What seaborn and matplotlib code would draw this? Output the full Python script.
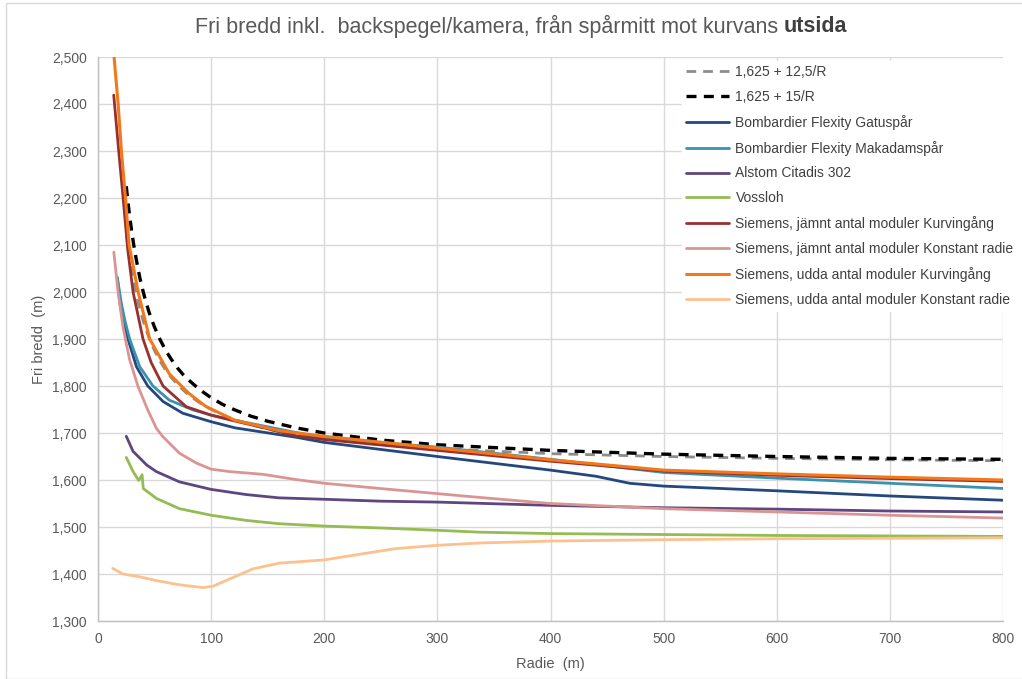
import numpy as np
import pandas as pd
import matplotlib
matplotlib.use("Agg")
import matplotlib.pyplot as plt
import seaborn as sns
from matplotlib.patches import Rectangle
from matplotlib.ticker import FuncFormatter, MultipleLocator

# ---- data ----
labels = [
    "1,625 + 12,5/R",
    "1,625 + 15/R",
    "Bombardier Flexity Gatuspår",
    "Bombardier Flexity Makadamspår",
    "Alstom Citadis 302",
    "Vossloh",
    "Siemens, jämnt antal moduler Kurvingång",
    "Siemens, jämnt antal moduler Konstant radie",
    "Siemens, udda antal moduler Kurvingång",
    "Siemens, udda antal moduler Konstant radie",
]

r_gray = [25, 26, 27, 28, 30, 32, 35, 37, 40, 42, 45, 47, 50, 55, 60, 65, 70, 75, 80, 90, 100, 110,
          120, 135, 150, 175, 200, 250, 300, 400, 500, 600, 700, 800]
v_gray = [2.125, 2.106, 2.088, 2.071, 2.042, 2.016, 1.982, 1.963, 1.938, 1.923, 1.903, 1.891, 1.875,
          1.852, 1.833, 1.817, 1.804, 1.792, 1.781, 1.764, 1.750, 1.739, 1.729, 1.718, 1.708, 1.696,
          1.688, 1.675, 1.667, 1.656, 1.650, 1.646, 1.643, 1.641]

r_black = [25, 26, 27, 28, 30, 32, 35, 37, 40, 42, 45, 47, 50, 55, 60, 65, 70, 75, 80, 90, 100, 110,
           120, 135, 150, 175, 200, 250, 300, 400, 500, 600, 700, 800]
v_black = [2.225, 2.202, 2.181, 2.161, 2.125, 2.094, 2.054, 2.030, 2.000, 1.982, 1.958, 1.944, 1.925,
           1.898, 1.875, 1.856, 1.839, 1.825, 1.813, 1.792, 1.775, 1.761, 1.750, 1.736, 1.725, 1.711,
           1.700, 1.685, 1.675, 1.663, 1.655, 1.650, 1.646, 1.644]

r_gatu = [17, 19.5, 22, 26.5, 34, 44, 57.5, 75, 100, 121, 175, 200, 300, 400, 440, 470, 500, 600, 700, 800]
v_gatu = [2.030, 1.975, 1.940, 1.900, 1.841, 1.800, 1.767, 1.742, 1.724, 1.711, 1.691, 1.680, 1.650,
          1.621, 1.608, 1.593, 1.587, 1.577, 1.566, 1.557]

r_makadam = [17, 20.7, 24, 28, 36.9, 48.6, 63, 84, 100, 115, 200, 300, 400, 500, 600, 700, 800]
v_makadam = [2.032, 1.975, 1.937, 1.900, 1.841, 1.800, 1.770, 1.749, 1.738, 1.730, 1.689, 1.670, 1.644,
             1.616, 1.604, 1.593, 1.582]

r_alstom = [25, 31, 43, 51.5, 72, 100, 131, 160, 200, 249, 300, 400, 500, 600, 700, 800]
v_alstom = [1.693, 1.661, 1.632, 1.618, 1.596, 1.580, 1.569, 1.562, 1.559, 1.555, 1.553, 1.546, 1.541,
            1.538, 1.534, 1.532]

r_vossloh = [25, 31, 36, 39, 40, 51.5, 72, 100, 131, 160, 200, 249, 300, 337, 400, 500, 600, 800]
v_vossloh = [1.648, 1.618, 1.599, 1.611, 1.582, 1.561, 1.539, 1.525, 1.514, 1.507, 1.502, 1.498, 1.493,
             1.489, 1.486, 1.484, 1.482, 1.480]

r_jamnt_kurv = [13.9, 18.3, 22.2, 26.3, 31, 39.8, 47, 57.5, 78, 100, 120, 145, 175, 200, 300, 400,
                500, 600, 700, 800]
v_jamnt_kurv = [2.419, 2.300, 2.200, 2.090, 2.000, 1.900, 1.850, 1.800, 1.756, 1.738, 1.726,
                1.712, 1.694, 1.686, 1.663, 1.640, 1.619, 1.610, 1.603, 1.597]

r_jamnt_konst = [14, 17.7, 22, 25, 28, 35.4, 44, 51.6, 57, 72, 87, 100, 116, 146, 175, 200, 249, 300,
                 337, 400, 500, 600, 700, 800]
v_jamnt_konst = [2.085, 2.000, 1.927, 1.890, 1.856, 1.799, 1.749, 1.710, 1.693, 1.657, 1.636, 1.623,
                 1.618, 1.612, 1.601, 1.593, 1.582, 1.571, 1.563, 1.550, 1.539, 1.532, 1.525, 1.519]

r_udda_kurv = [14.2, 17.8, 20.7, 24.3, 27.5, 35.5, 45.7, 63, 80, 95, 121, 160, 200, 300, 400, 500,
               600, 700, 800]
v_udda_kurv = [2.500, 2.400, 2.300, 2.200, 2.100, 2.000, 1.900, 1.826, 1.785, 1.757, 1.727,
               1.705, 1.693, 1.668, 1.643, 1.621, 1.613, 1.606, 1.600]

r_udda_konst = [13, 22, 37, 51.5, 72, 93, 101.6, 116, 137, 160, 200, 234, 263, 300, 337, 400, 500, 600, 800]
v_udda_konst = [1.412, 1.400, 1.394, 1.386, 1.377, 1.371, 1.374, 1.389, 1.411, 1.423, 1.430, 1.443,
                1.454, 1.461, 1.466, 1.470, 1.473, 1.475, 1.477]

series_r = [r_gray, r_black, r_gatu, r_makadam, r_alstom, r_vossloh,
            r_jamnt_kurv, r_jamnt_konst, r_udda_kurv, r_udda_konst]
series_v = [v_gray, v_black, v_gatu, v_makadam, v_alstom, v_vossloh,
            v_jamnt_kurv, v_jamnt_konst, v_udda_kurv, v_udda_konst]

colors = ["#8C8C8C", "#000000", "#24477E", "#3A92AE", "#5E4680", "#95BB53",
          "#98302D", "#DA9593", "#F3781A", "#FCC18E"]
widths = [2.0, 2.4, 2.0, 2.0, 2.0, 2.0, 2.0, 2.0, 2.2, 2.0]
dashed = [True, True] + [False] * 8

# ---- figure ----
sns.set_theme(style="whitegrid")
plt.rcParams["font.family"] = ["Liberation Sans", "DejaVu Sans"]

fig = plt.figure(figsize=(10.22, 6.79), dpi=100)
ax = fig.add_axes([98 / 1022, 1 - 621 / 679, (1003 - 98) / 1022, (621 - 57) / 679])
fig.patches.append(Rectangle((6 / 1022, 0), 1.0, 1 - 3 / 679, transform=fig.transFigure,
                             fill=False, edgecolor="#D9D9D9", linewidth=1.0, zorder=0))

for lab, rr, vv, c, w, d in zip(labels, series_r, series_v, colors, widths, dashed):
    df = pd.DataFrame({"Radie": rr, "Bredd": vv})
    sns.lineplot(data=df, x="Radie", y="Bredd", ax=ax, color=c, linewidth=w,
                 label=lab, sort=False, estimator=None)
    ln = ax.lines[-1]
    ln.set_solid_joinstyle("round")
    if d:
        ln.set_dashes([3.0, 2.2] if lab.endswith("15/R") else [3.5, 2.5])

ax.set_xlim(0, 800)
ax.set_ylim(1.3, 2.5)
ax.xaxis.set_major_locator(MultipleLocator(100))
ax.yaxis.set_major_locator(MultipleLocator(0.1))
ax.yaxis.set_major_formatter(FuncFormatter(lambda v, p: f"{v:.3f}".replace(".", ",")))
ax.set_facecolor("white")
ax.grid(True, color="#D9D9D9", linewidth=1.0)
for s in ["top", "right"]:
    ax.spines[s].set_visible(False)
for s in ["left", "bottom"]:
    ax.spines[s].set_visible(True)
    ax.spines[s].set_color("#BFBFBF")
    ax.spines[s].set_linewidth(1.0)
ax.tick_params(axis="both", length=0, labelsize=10, labelcolor="#595959", pad=8)

ax.set_xlabel("Radie  (m)", fontsize=10.5, color="#595959", labelpad=8)
ax.set_ylabel("Fri bredd  (m)", fontsize=10.5, color="#595959", labelpad=4)

leg = ax.legend(loc="upper left", bbox_to_anchor=(682 / 1022, 1 - 61 / 679),
                bbox_transform=fig.transFigure, frameon=True, fontsize=10,
                labelspacing=0.78, handlelength=3.1, handletextpad=0.45,
                borderaxespad=0, borderpad=0.3)
leg.get_frame().set_facecolor("white")
leg.get_frame().set_edgecolor("white")
leg.get_frame().set_alpha(1.0)
for t in leg.get_texts():
    t.set_color("#404040")

# title with bold last word
renderer = fig.canvas.get_renderer()
t1 = fig.text(0, 1 - 26 / 679, "Fri bredd inkl.  backspegel/kamera, från spårmitt mot kurvans ",
              fontsize=15.5, color="#595959", va="center", ha="left")
t2 = fig.text(0, 1 - 26 / 679, "utsida", fontsize=15.5, color="#404040",
              fontweight="bold", va="center", ha="left")
w1 = t1.get_window_extent(renderer).width
w2 = t2.get_window_extent(renderer).width
start = 521 - (w1 + w2) / 2
t1.set_x(start / 1022)
t2.set_x((start + w1) / 1022)

fig.savefig("out.png", dpi=100, facecolor="white")
